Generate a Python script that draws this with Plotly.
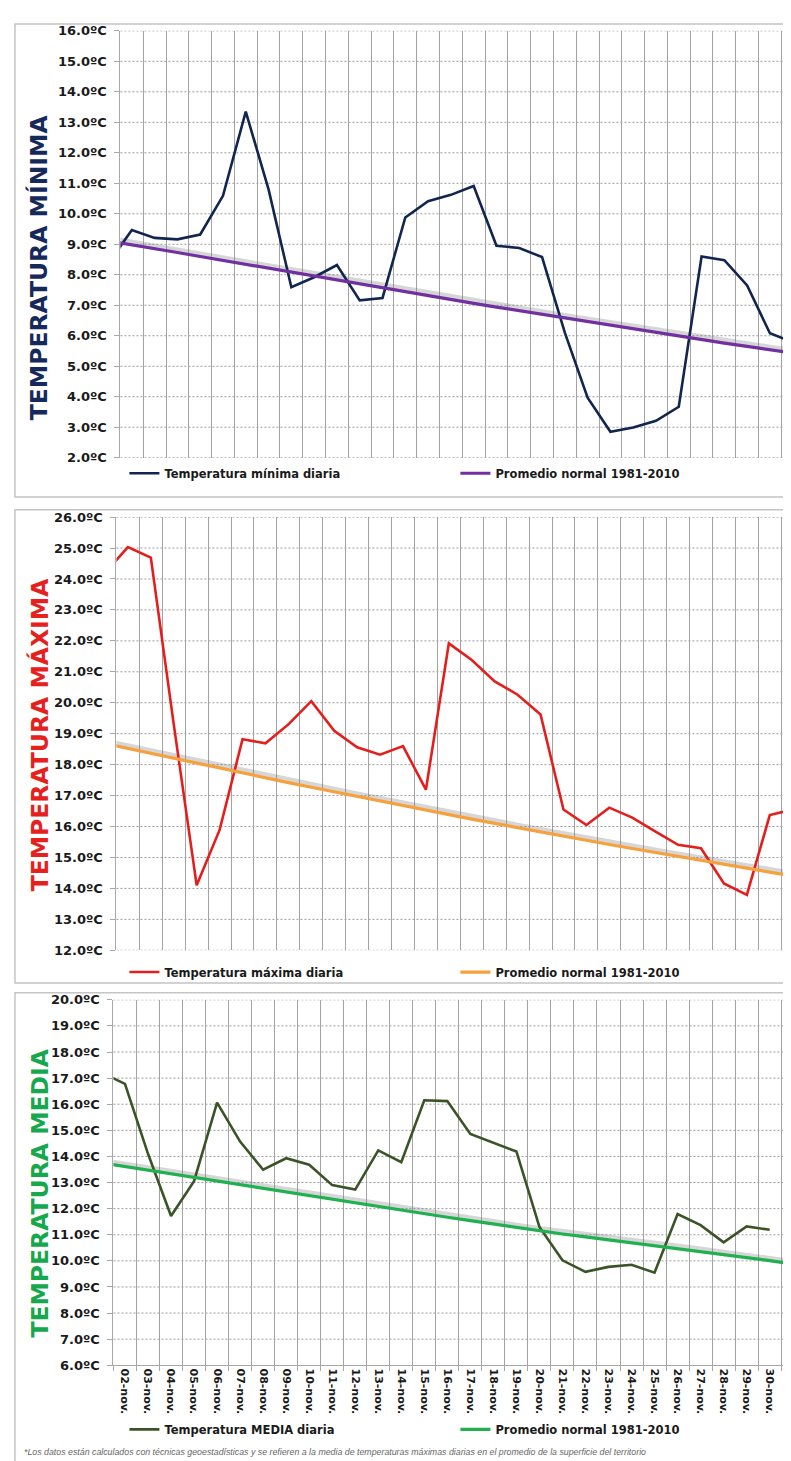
import plotly.graph_objects as go

W, H = 791, 1461

dates = ["01-nov.", "02-nov.", "03-nov.", "04-nov.", "05-nov.", "06-nov.", "07-nov.", "08-nov.",
         "09-nov.", "10-nov.", "11-nov.", "12-nov.", "13-nov.", "14-nov.", "15-nov.", "16-nov.",
         "17-nov.", "18-nov.", "19-nov.", "20-nov.", "21-nov.", "22-nov.", "23-nov.", "24-nov.",
         "25-nov.", "26-nov.", "27-nov.", "28-nov.", "29-nov.", "30-nov.", "01-dic."]

tmin = [8.4, 9.47, 9.21, 9.16, 9.32, 10.59, 13.35, 10.8, 7.59, 7.92, 8.32, 7.16, 7.24, 9.88,
        10.41, 10.62, 10.91, 8.95, 8.88, 8.58, 6.1, 3.97, 2.85, 2.99, 3.21, 3.67, 8.6, 8.48,
        7.65, 6.08, 5.79]
tmin_normal = [9.11, 8.99, 8.86, 8.73, 8.60, 8.47, 8.34, 8.21, 8.08, 7.95, 7.82, 7.69, 7.56,
               7.43, 7.30, 7.18, 7.06, 6.94, 6.82, 6.70, 6.58, 6.46, 6.34, 6.22, 6.10, 5.98,
               5.87, 5.76, 5.65, 5.54, 5.43]

tmax = [24.2, 25.03, 24.69, 19.3, 14.1, 15.89, 18.82, 18.69, 19.3, 20.05, 19.09, 18.56, 18.32,
        18.6, 17.19, 21.92, 21.38, 20.69, 20.26, 19.62, 16.55, 16.05, 16.61, 16.29, 15.84, 15.41,
        15.30, 14.16, 13.79, 16.37, 16.55]
tmax_normal = [18.68, 18.52, 18.36, 18.20, 18.04, 17.88, 17.72, 17.57, 17.42, 17.27, 17.12,
               16.97, 16.82, 16.67, 16.52, 16.38, 16.24, 16.10, 15.96, 15.82, 15.68, 15.55,
               15.42, 15.29, 15.16, 15.03, 14.90, 14.78, 14.66, 14.53, 14.40]

tmed = [17.2, 16.78, 14.1, 11.72, 13.05, 16.06, 14.57, 13.49, 13.93, 13.68, 12.9, 12.73, 14.23,
        13.78, 16.15, 16.12, 14.86, 14.54, 14.19, 11.3, 10.02, 9.58, 9.77, 9.85, 9.55, 11.79,
        11.37, 10.71, 11.32, 11.19, None]
tmed_normal = [13.75, 13.61, 13.47, 13.33, 13.19, 13.05, 12.91, 12.77, 12.63, 12.49, 12.35,
               12.21, 12.07, 11.93, 11.80, 11.67, 11.54, 11.41, 11.28, 11.15, 11.03, 10.92,
               10.81, 10.70, 10.59, 10.48, 10.37, 10.26, 10.13, 10.01, 9.88]

titles = ["TEMPERATURA MÍNIMA", "TEMPERATURA MÁXIMA", "TEMPERATURA MEDIA"]
daily_names = ["Temperatura mínima diaria", "Temperatura máxima diaria", "Temperatura MEDIA diaria"]
normal_name = "Promedio normal 1981-2010"
y_ranges = [(2, 16), (12, 26), (6, 20)]

title_colors = ["#16295a", "#e5201d", "#16a84c"]
daily_colors = ["#12254f", "#e41e1c", "#3b5427"]
normal_colors = ["#7030a0", "#f7a13c", "#1fb050"]

# layout geometry (pixels)
panels = [
    dict(left=113, top=16, bottom=447.3, xmax=30.1, frame=(7, 9, 487), title_y=255, legend_y=463),
    dict(left=109, top=507.3, bottom=945, xmax=30.1, frame=(7, 500, 978), title_y=727, legend_y=967),
    dict(left=106, top=995, bottom=1364.3, xmax=30.1, frame=(7, 988, 1470), title_y=1190, legend_y=1429),
]

def fx(x):
    return x / W

def fy(y):
    return 1 - y / H

FONT = "DejaVu Sans"
fig = go.Figure()

series = [(tmin, tmin_normal), (tmax, tmax_normal), (tmed, tmed_normal)]
layout = dict(width=W, height=H, margin=dict(l=0, r=0, t=0, b=0), autosize=False,
              paper_bgcolor="white", plot_bgcolor="rgba(0,0,0,0)", shapes=[], annotations=[])

for i, (p, (daily, normal)) in enumerate(zip(panels, series)):
    n = i + 1
    xa = "x" if n == 1 else f"x{n}"
    ya = "y" if n == 1 else f"y{n}"
    lg = "legend" if n == 1 else f"legend{n}"
    shadow = [v + 0.07 for v in normal]
    fig.add_trace(go.Scatter(x=dates, y=shadow, mode="lines", xaxis=xa, yaxis=ya,
                             line=dict(color="rgba(120,120,120,0.3)", width=6),
                             showlegend=False, hoverinfo="skip"))
    fig.add_trace(go.Scatter(x=dates, y=daily, mode="lines", name=daily_names[i],
                             xaxis=xa, yaxis=ya, legend=lg,
                             line=dict(color=daily_colors[i], width=2.6)))
    fig.add_trace(go.Scatter(x=dates, y=normal, mode="lines", name=normal_name,
                             xaxis=xa, yaxis=ya, legend=lg,
                             line=dict(color=normal_colors[i], width=3.2)))

    xkey = "xaxis" if n == 1 else f"xaxis{n}"
    ykey = "yaxis" if n == 1 else f"yaxis{n}"
    last = n == 3
    layout[xkey] = dict(
        type="category", categoryorder="array", categoryarray=dates,
        domain=[fx(p["left"]), 1], anchor=ya, range=[0.5, p["xmax"]],
        tickson="boundaries", showgrid=True, gridcolor="#a3a3a3", gridwidth=1.2,
        griddash="solid",
        showline=last, linecolor="#a8a8a8",
        ticks="outside" if last else "", ticklen=5, tickcolor="#a8a8a8",
        showticklabels=last, tickangle=90,
        tickfont=dict(family=FONT, size=11, color="#1a1a1a", weight="bold"),
        zeroline=False, fixedrange=True)
    lo, hi = y_ranges[i]
    layout[ykey] = dict(
        domain=[fy(p["bottom"]), fy(p["top"])], anchor=xa,
        range=[lo, hi], tick0=0, dtick=1, tickformat=".1f", ticksuffix="ºC",
        showgrid=False,
        showline=True, linecolor="#a8a8a8", ticks="outside", ticklen=5, tickcolor="#a8a8a8",
        tickfont=dict(family=FONT, size=13, color="#1a1a1a", weight="bold"),
        ticklabelstandoff=5, zeroline=False, fixedrange=True)
    # dotted horizontal gridlines at every tick value
    for v in range(lo, hi + 1):
        if last and v == lo:
            continue
        layout["shapes"].append(dict(type="line", xref=f"{xa} domain", yref=ya, x0=0, x1=1,
                                     y0=v, y1=v, layer="below",
                                     line=dict(color="#9a9a9a", width=1, dash="2px,2px")))
    layout[lg] = dict(orientation="h", x=fx(117), xanchor="left", y=fy(p["legend_y"]),
                      yanchor="middle", bgcolor="rgba(0,0,0,0)", borderwidth=0,
                      entrywidth=286, entrywidthmode="pixels", traceorder="normal",
                      font=dict(family=FONT, size=11.5, color="#1a1a1a", weight="bold"))
    fl, ft, fb = p["frame"]
    layout["shapes"].append(dict(type="rect", xref="paper", yref="paper", x0=fx(fl), x1=1.02,
                                 y0=fy(fb), y1=fy(ft), line=dict(color="#c4c4c4", width=1.5),
                                 layer="below"))
    layout["annotations"].append(dict(text=titles[i], xref="paper", yref="paper", x=fx(32),
                                      y=fy(p["title_y"]), textangle=-90, showarrow=False,
                                      xanchor="center", yanchor="middle",
                                      font=dict(family=FONT, size=23.5, color=title_colors[i],
                                                weight="bold")))

layout["annotations"].append(dict(
    text="*Los datos están calculados con técnicas geoestadísticas y se refieren a la media de temperaturas máximas diarias en el promedio de la superficie del territorio",
    xref="paper", yref="paper", x=fx(14), y=fy(1452), xanchor="left", yanchor="middle",
    showarrow=False, font=dict(family="Liberation Sans", size=8.8, color="#666666", style="italic")))

fig.update_layout(**layout)
fig.write_html("out.html")
